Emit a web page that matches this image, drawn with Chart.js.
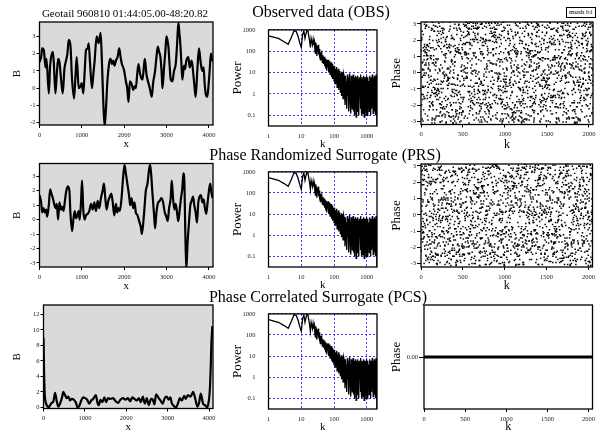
<!DOCTYPE html>
<html><head><meta charset="utf-8">
<script src="https://cdn.jsdelivr.net/npm/chart.js@4.4.1/dist/chart.umd.min.js"></script>
<style>
body{margin:0;width:606px;height:436px;background:#fff;position:relative;overflow:hidden;font-family:"Liberation Serif",serif;}
canvas{position:absolute;}
.t{position:absolute;white-space:nowrap;transform:translate(-50%,-50%);color:#000;z-index:5;line-height:1;}
#leg{position:absolute;left:566px;top:7px;width:28px;height:9px;border:1px solid #000;font-size:7px;line-height:9px;text-align:center;z-index:5;background:#fff;}
</style></head><body>
<div class="t" style="left:125px;top:13px;font-size:11px">Geotail 960810 01:44:05.00-48:20.82</div>
<div class="t" style="left:321px;top:12px;font-size:16px">Observed data (OBS)</div>
<div class="t" style="left:325px;top:155px;font-size:16px">Phase Randomized Surrogate (PRS)</div>
<div class="t" style="left:318px;top:297px;font-size:16px">Phase Correlated Surrogate (PCS)</div>
<div id="leg">mush b1</div>
<script>
// ---------- DATA ----------
const obsX=[0,39,63,102,141,165,220,251,314,337,376,408,439,471,510,549,588,627,659,690,729,769,816,847,878,925,965,996,1035,1067,1098,1137,1161,1192,1239,1271,1302,1349,1396,1443,1474,1506,1537,1569,1600,1647,1678,1710,1741,1772,1804,1843,1882,1914,1945,1976,2000,2039,2071,2102,2133,2180,2212,2243,2274,2306,2337,2369,2400,2431,2463,2486,2525,2572,2604,2651,2682,2729,2761,2792,2824,2855,2886,2902,2941,2973,2996,3020,3043,3075,3098,3137,3176,3216,3247,3278,3302,3318,3349,3372,3412,3435,3467,3514,3545,3592,3624,3655,3686,3725,3765,3804,3843,3874,3898,3922,3961,3992,4016,4047,4078,4095];
const obsB=[1.5,1.8,2.3,2.2,1.2,1.7,-0.3,1.3,2.1,1.5,-0.3,0.8,1.7,1.5,0.5,-0.3,1.1,1.6,2.0,2.8,2.5,0.5,-0.6,0.6,1.8,0.0,0.1,0.3,-0.3,1.0,2.2,2.3,2.6,1.5,0.0,0.8,1.6,3.0,2.6,3.2,1.5,-0.8,-2.2,-1.2,0.3,1.5,1.7,1.4,1.6,1.3,1.6,1.8,2.3,1.8,1.4,1.2,1.0,0.4,0.0,-0.8,0.4,0.2,-0.1,0.1,0.0,0.8,1.4,0.9,0.6,0.5,1.2,1.7,0.8,0.3,0.0,-0.5,0.3,1.0,1.8,2.4,2.1,1.8,0.8,0.0,1.2,2.2,3.0,2.8,2.4,1.2,0.5,0.4,1.0,1.4,2.5,3.8,3.2,2.8,1.5,0.5,1.3,1.1,1.6,1.8,1.2,1.6,1.0,0.2,-0.5,1.0,2.3,1.5,1.0,1.2,0.3,-0.3,-0.5,0.2,1.0,2.0,1.6,1.7];
const prsX=[0,39,63,94,125,157,180,220,251,282,314,353,376,408,439,471,502,533,565,596,627,667,706,729,769,800,831,863,894,925,949,980,1004,1035,1067,1098,1137,1176,1216,1255,1294,1333,1373,1412,1451,1490,1522,1553,1584,1624,1663,1694,1725,1765,1804,1835,1867,1898,1937,1976,2008,2039,2078,2118,2141,2173,2212,2243,2274,2314,2353,2392,2416,2447,2478,2510,2549,2588,2612,2635,2667,2706,2729,2761,2792,2839,2878,2918,2957,2996,3027,3059,3098,3122,3153,3184,3216,3255,3278,3310,3341,3373,3396,3420,3443,3467,3498,3529,3561,3592,3624,3655,3686,3718,3749,3780,3812,3843,3874,3906,3937,3969,4000,4031,4063,4086];
const prsB=[1.7,1.2,0.5,0.8,0.5,0.7,0.2,1.0,2.1,1.8,1.5,1.0,0.8,1.1,0.0,1.2,0.7,0.9,0.6,1.2,1.9,2.3,2.0,0.5,-0.8,0.0,0.6,0.1,0.3,0.6,0.0,1.2,2.7,0.6,0.0,0.3,0.4,0.6,1.1,0.7,1.2,0.6,1.3,0.8,1.5,2.0,2.5,1.5,0.7,1.3,1.6,1.8,1.3,0.3,1.1,0.5,0.8,0.6,1.5,3.0,3.8,3.2,2.4,1.6,1.0,1.5,0.8,1.2,0.5,0.3,-0.1,-0.5,-1.0,-0.3,0.8,2.0,2.5,3.5,3.8,3.2,1.8,0.3,-0.6,0.5,1.1,1.3,1.5,1.2,0.5,0.2,-0.1,0.8,1.5,2.7,1.5,0.7,1.1,0.3,-0.1,0.7,1.5,2.2,3.2,2.6,-1.0,-3.3,-1.5,-0.2,1.0,1.3,1.6,1.0,0.5,-0.2,1.2,1.6,1.7,1.2,1.4,0.8,0.4,1.2,2.0,2.5,1.8,1.5];
const pcsX=[0,16,32,56,80,120,160,200,240,280,320,360,400,448,480,520,560,600,640,680,736,784,824,864,912,960,1008,1056,1104,1152,1200,1264,1304,1336,1376,1424,1472,1512,1560,1616,1680,1744,1800,1856,1920,1984,2040,2096,2144,2200,2256,2304,2352,2400,2448,2496,2544,2600,2640,2680,2720,2784,2840,2880,2928,2976,3024,3064,3104,3152,3200,3248,3296,3344,3400,3440,3488,3552,3616,3664,3720,3760,3800,3856,3904,3952,3984,4016,4040,4056,4080];
const pcsB=[9.0,4.0,1.5,0.6,0.3,0.0,0.3,0.6,0.8,1.9,0.8,0.1,0.5,1.3,2.0,1.6,1.2,1.4,0.9,1.1,1.0,0.6,0.0,0.2,0.9,1.3,1.2,1.0,0.5,0.9,1.1,1.6,0.6,0.3,1.0,0.7,1.3,0.7,1.2,1.1,1.2,0.8,0.6,1.0,1.2,1.0,1.2,0.8,1.3,1.1,0.9,1.2,0.7,1.4,0.5,1.2,0.3,1.1,1.0,0.4,1.7,1.2,0.8,0.5,1.2,1.4,1.0,1.3,0.5,0.2,0.0,0.5,1.2,0.9,1.5,1.1,1.6,1.4,2.0,1.2,0.1,0.6,1.8,0.5,0.3,0.0,0.5,2.0,5.0,8.0,10.5];
// power spectrum (identical for OBS, PRS, PCS)
const powK=[1,2,3,4,5,6,7,8,9,10,11,12,13,14,15,16,17,18,19,20,21,22,23,24,25,26,27,28,29,30,31,32,33,34,35,36,37,38,39,40,42,44,46,48,50,52,54,56,58,60,62,64,66,68,70,72,74,76,78,80,82,84,86,88,90,92,94,96,98,100,104,108,112,116,120,124,128,132,136,140,144,148,152,156,160,164,168,172,176,180,184,188,192,196,200,208,216,224,232,240,248,256,264,272,280,288,296,304,312,320,328,336,344,352,360,368,376,384,392,400,408,416,424,432,440,448,456,464,472,480,488,496,512,528,544,560,576,592,608,624,640,656,672,688,704,720,736,752,768,784,800,816,832,848,864,880,896,912,928,944,960,976,992,1024,1056,1088,1120,1152,1184,1216,1248,1280,1312,1344,1376,1408,1440,1472,1504,1536,1568,1600,1632,1664,1696,1728,1760,1792,1824,1856,1888,1920,1952,1984,2016,2048];
const powV=[530,400,280,210,450,900,850,500,250,150,600,900,400,700,950,900,500,300,150,400,
  400,200,350,200,280,120,80,250,150,60,180,100,200,70,130,50,110,40,90,55,
  80,30,65,25,55,20,45,15,40,12,35,18,40,10,30,14,35,8,25,12,30,6,22,10,25,5,20,8,18,4,
  20,3,15,6,18,2,12,5,15,1.5,10,4,12,1.2,9,3,11,0.8,8,2.5,10,0.6,7,2,9,
  6,0.3,7,1.5,4,0.2,8,0.8,5,0.15,6,2,9,0.3,4,0.12,7,1,5,0.2,6,0.6,8,0.15,4,1.5,6,0.1,5,0.4,7,0.2,3,0.08,6,1,4,
  0.15,7,0.5,5,0.1,6,1.2,4,0.2,8,0.3,5,0.1,6,0.8,4,0.12,7,0.5,5,0.08,6,1,3,0.15,6,0.4,5,0.1,7,0.3,
  5,0.09,6,0.6,4,0.15,7,0.3,5,0.1,6,1,4,0.2,8,0.4,5,0.12,6,0.8,4,0.15,7,0.5,5,0.1,6,0.3,8,0.2,5,0.5,0.03];
// phases: digit string, each value read from a sliding pair of digits (00..99 across -pi..pi)
const obsPhaseDigits=
"71828182845904523536028747135266249775724709369995957496696762772407663035354759"+
"45713821785251664274274663919320030599218174135966290435729003342952605956307381"+
"32328627943490763233829880753195251019011573834187930702154089149934884167509244"+
"76146066808226480016847741185374234544243710753907774499206955170276183860626133"+
"13845830007520449338265602976067371132007093287091274437470472306969772093101416"+
"92836819025515108657463772111252389784425056953696770785449969967946864454905987"+
"93163688923009879312773617821542499922957635148220826989519366803318252886939849"+
"64651058209392398294887933203625094431173012381970684161403970198376793206832823"+
"76464804295311802328782509819455815301756717361332069811250996181881593041690351"+
"59888851934580727386673858942287922849989208680582574927961048419844436346324496"+
"84875602336248270419786232090021609902353043699418491463140934317381436405462531"+
"52096183690888707016768396424378140592714563549061303107208510383750510115747704"+
"17189861068739696552126715468895703503540212340784981933432106817012100562788023"+
"51930332247450158539047304199577770935036604169973297250886876966403555707162268"+
"44716256079882651787134195124665201030592123667719432527867539855894489697096409"+
"75459185695638023637016211204774272283648961342251644507818244235294863637214174"+
"02388934412479635743702637552944483379980161254922785092577825620926226483262779"+
"33386566481627725164019105900491644998289315056604725802778631864155195653244258"+
"69829469593080191529872117255634754639644791014590409058629849679128740687050489"+
"58586717479854667757573205681288459205413340539220001137863009455606881667400169"+
"84205580403363795376452030402432256613527836951177883863874439662532249850654995"+
"88623428189970773327617178392803494650143455889707194258639877275471096295374152";
const prsPhaseDigits=
"14159265358979323846264338327950288419716939937510582097494459230781640628620899"+
"86280348253421170679821480865132823066470938446095505822317253594081284811174502"+
"84102701938521105559644622948954930381964428810975665933446128475648233786783165"+
"27120190914564856692346034861045432664821339360726024914127372458700660631558817"+
"48815209209628292540917153643678925903600113305305488204665213841469519415116094"+
"33057270365759591953092186117381932611793105118548074462379962749567351885752724"+
"89122793818301194912983367336244065664308602139494639522473719070217986094370277"+
"05392171762931767523846748184676694051320005681271452635608277857713427577896091"+
"73637178721468440901224953430146549585371050792279689258923542019956112129021960"+
"86403441815981362977477130996051870721134999999837297804995105973173281609631859"+
"50244594553469083026425223082533446850352619311881710100031378387528865875332083"+
"81420617177669147303598253490428755468731159562863882353787593751957781857780532"+
"17122680661300192787661119590921642019893809525720106548586327886593615338182796"+
"82303019520353018529689957736225994138912497217752834791315155748572424541506959"+
"73167176531330624919225119674426574742355349194934969835203127745063262395783180"+
"16984801869478851843858615607891129494954595017379583319528532088055111254069874"+
"71585238630507156932909632952274430435576689664895044524452316173185640309871112"+
"17223831136222989342338030813533627661428280644448664523874930358907296290491560"+
"44077239071381051585930796086670172427121883998797908792274921901699720888093776"+
"65727333001053367881220235421809751254540594752243525849077116705560136048395864"+
"46706324415722155397536978179778461740649551492908625693219784686224828397224137"+
"56570560574902614079729686524145351004748216637048440319989000889524345065854122";
const pcsPhaseK=[0,2048];
const pcsPhaseV=[0,0];
// tick values
const seriesXTicks=[0,1000,2000,3000,4000];
const obsYTicks=[-2,-1,0,1,2,3];
const prsYTicks=[-3,-2,-1,0,1,2,3];
const pcsYTicks=[0,2,4,6,8,10,12];
const powXTicks=[1,10,100,1000];
const powYTicks=[0.1,1,10,100,1000];
const phaseXTicks=[0,500,1000,1500,2000];
const phaseYTicks=[-3,-2,-1,0,1,2,3];
const pcsPhaseYTicks=[0];

// ---------- DRAWING ----------
const FF='"Liberation Serif","Times New Roman",serif';
function decode(str){const o=[];for(let i=0;i+1<str.length;i++){o.push(-Math.PI+(parseInt(str.substr(i,2),10)+0.5)*2*Math.PI/100);}return o;}
function pts(xs,ys){return xs.map((x,i)=>({x:x,y:ys[i]}));}
function phasePts(vals){const n=vals.length;return vals.map((v,i)=>({x:1+i*2047/(n-1),y:v}));}

const boxPlugin={id:'box',
  beforeDraw(chart,a,o){if(o.fill){const c=chart.ctx,r=chart.chartArea;c.save();c.fillStyle=o.fill;c.fillRect(r.left,r.top,r.right-r.left,r.bottom-r.top);c.restore();}},
  afterDraw(chart,a,o){const c=chart.ctx,r=chart.chartArea;c.save();c.strokeStyle='#000';c.lineWidth=o.lw||1.3;c.strokeRect(r.left,r.top,r.right-r.left,r.bottom-r.top);c.restore();}
};

function axis(o){
  return {
    type:o.type||'linear',min:o.min,max:o.max,position:o.pos,
    afterFit:s=>{if(o.pos==='left')s.width=o.fit;else s.height=o.fit;},
    afterBuildTicks:s=>{s.ticks=o.vals.map(v=>({value:v}));},
    ticks:{autoSkip:false,maxRotation:0,minRotation:0,padding:o.pad,color:'#222',
      font:{family:FF,size:6.5},callback:v=>o.fmt?o.fmt(v):String(v)},
    grid:{display:true,drawOnChartArea:!!o.gridOn,drawTicks:o.tl>0,tickLength:o.tl||0,
      color:o.gridOn?'#3a3aff':'#000',tickColor:'#000',lineWidth:1},
    border:{display:false,dash:o.gridOn?[2,2]:[]},
    title:{display:true,text:o.title,color:'#000',padding:0,font:{family:FF,size:o.ts,lineHeight:1.2}}
  };
}

function panel(g,datasets,xa,ya,fill){
  const yOff=0.6*g.ys,xOff=0.6*g.xs;
  const cx=Math.floor(g.yt-yOff-1), pl=g.yt-yOff-cx;
  const cy=Math.floor(g.T-9), pt=g.T-cy;
  const cw=Math.ceil(g.R+12-cx), pr=cx+cw-g.R;
  const ch=Math.ceil(g.xt+xOff+2-cy), pb=cy+ch-(g.xt+xOff);
  const wY=g.L-cx-pl, hX=(cy+ch-pb)-g.B;
  const c=document.createElement('canvas');
  c.width=cw;c.height=ch;c.style.left=cx+'px';c.style.top=cy+'px';
  document.body.appendChild(c);
  xa.fit=hX;xa.pos='bottom';ya.fit=wY;ya.pos='left';
  new Chart(c,{type:'scatter',data:{datasets:datasets},plugins:[boxPlugin],
    options:{responsive:false,animation:false,devicePixelRatio:1,
      layout:{padding:{left:pl,right:pr,top:pt,bottom:pb}},
      plugins:{legend:{display:false},tooltip:{enabled:false},box:{fill:fill}},
      scales:{x:axis(xa),y:axis(ya)}}});
}

function lineDs(xs,ys,w,smooth){const d={data:pts(xs,ys),showLine:true,borderColor:'#000',borderWidth:w,pointRadius:0,tension:0};if(smooth){d.cubicInterpolationMode='monotone';}return d;}
function dotDs(vals){return {data:phasePts(vals),showLine:false,pointStyle:'rect',pointRadius:1.05,backgroundColor:'#000',borderWidth:0};}
const fmtPow=v=>String(v);
const GRAY='#dadada';

// Row 1
panel({L:39.5,T:22,R:213,B:125,yt:17,xt:144,ys:11,xs:11},[lineDs(obsX,obsB,2.2,true)],
  {min:0,max:4096,vals:seriesXTicks,tl:3,pad:3,title:'x',ts:11},
  {min:-2.13,max:3.83,vals:obsYTicks,tl:3,pad:1,title:'B',ts:11},GRAY);
panel({L:268.5,T:22,R:377,B:126,yt:238,xt:144,ys:13,xs:11},[lineDs(powK,powV,1.3)],
  {type:'logarithmic',min:1,max:2048,vals:powXTicks,tl:0,pad:6,title:'k',ts:11,gridOn:true},
  {type:'logarithmic',min:0.031,max:1000,vals:powYTicks,tl:0,pad:13,title:'Power',ts:13,gridOn:true,fmt:fmtPow},null);
panel({L:421,T:22,R:593,B:124.5,yt:397,xt:145,ys:13,xs:12},[dotDs(decode(obsPhaseDigits))],
  {min:0,max:2048,vals:phaseXTicks,tl:3,pad:3,title:'k',ts:12},
  {min:-3.2,max:3.12,vals:phaseYTicks,tl:4,pad:1,title:'Phase',ts:13},null);
// Row 2
panel({L:39.5,T:163.5,R:213,B:267,yt:17,xt:286,ys:11,xs:11},[lineDs(prsX,prsB,2.2,true)],
  {min:0,max:4096,vals:seriesXTicks,tl:3,pad:3,title:'x',ts:11},
  {min:-3.28,max:3.89,vals:prsYTicks,tl:3,pad:1,title:'B',ts:11},GRAY);
panel({L:268.5,T:164,R:377,B:267,yt:238,xt:285.5,ys:13,xs:11},[lineDs(powK,powV,1.3)],
  {type:'logarithmic',min:1,max:2048,vals:powXTicks,tl:0,pad:6,title:'k',ts:11,gridOn:true},
  {type:'logarithmic',min:0.031,max:1000,vals:powYTicks,tl:0,pad:13,title:'Power',ts:13,gridOn:true,fmt:fmtPow},null);
panel({L:421,T:164,R:592.5,B:267,yt:397,xt:285.5,ys:13,xs:12},[dotDs(decode(prsPhaseDigits))],
  {min:0,max:2048,vals:phaseXTicks,tl:3,pad:3,title:'k',ts:12},
  {min:-3.2,max:3.12,vals:phaseYTicks,tl:4,pad:1,title:'Phase',ts:13},null);
// Row 3
panel({L:43.5,T:305,R:213,B:408.5,yt:17,xt:427,ys:11,xs:11},[lineDs(pcsX,pcsB,2.2,true)],
  {min:0,max:4096,vals:seriesXTicks,tl:3,pad:3,title:'x',ts:11},
  {min:-0.13,max:13.2,vals:pcsYTicks,tl:3,pad:1,title:'B',ts:11},GRAY);
panel({L:268.5,T:306,R:377,B:409,yt:238,xt:427,ys:13,xs:11},[lineDs(powK,powV,1.3)],
  {type:'logarithmic',min:1,max:2048,vals:powXTicks,tl:0,pad:6,title:'k',ts:11,gridOn:true},
  {type:'logarithmic',min:0.031,max:1000,vals:powYTicks,tl:0,pad:13,title:'Power',ts:13,gridOn:true,fmt:fmtPow},null);
panel({L:424,T:305,R:592.5,B:409,yt:397,xt:427,ys:13,xs:12},[lineDs(pcsPhaseK,pcsPhaseV,3)],
  {min:0,max:2048,vals:phaseXTicks,tl:3,pad:3,title:'k',ts:12},
  {min:-1,max:1,vals:pcsPhaseYTicks,tl:5,pad:1,title:'Phase',ts:13,fmt:v=>v.toFixed(2)},null);
</script>
</body></html>
